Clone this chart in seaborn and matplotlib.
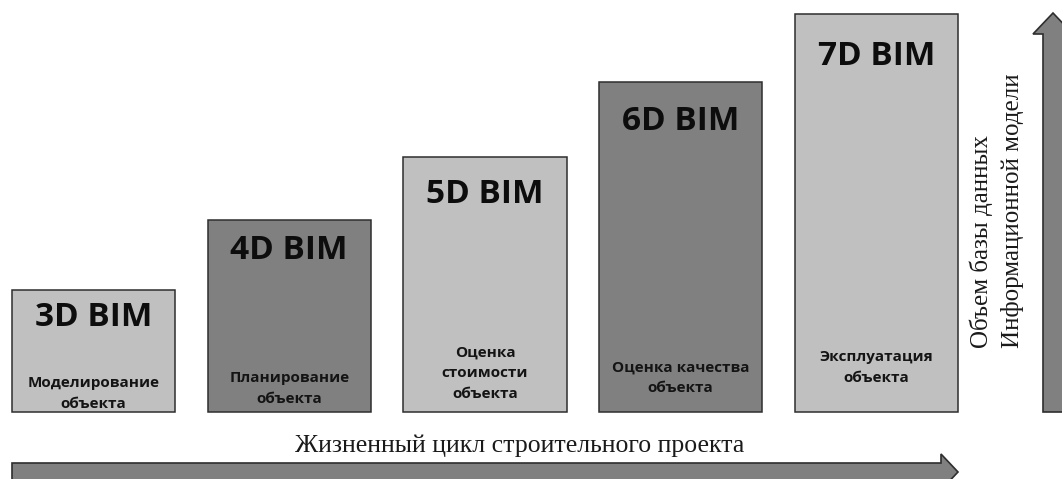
import matplotlib
matplotlib.use("Agg")
import matplotlib.pyplot as plt
import seaborn as sns
import pandas as pd
from matplotlib.patches import Polygon

# BIM maturity stages and the relative size of the information model at each
stages = ["3D BIM", "4D BIM", "5D BIM", "6D BIM", "7D BIM"]
descriptions = [
    "Моделирование\nобъекта",
    "Планирование\nобъекта",
    "Оценка\nстоимости\nобъекта",
    "Оценка качества\nобъекта",
    "Эксплуатация\nобъекта",
]
volume = [122, 192, 255, 330, 398]
shade = ["light", "dark", "light", "dark", "light"]
x_caption = "Жизненный цикл строительного проекта"
y_caption = "Объем базы данных\nИнформационной модели"

df = pd.DataFrame({"stage": stages, "volume": volume, "shade": shade})

# layout (pixel-like units of the drawing)
W, H = 1062, 479
title_drop = [36, 39, 46, 48, 51]      # stage title baseline below bar top
desc_lift = [1, 6, 11, 17, 27]         # description block bottom above bar base

sns.set_theme(style="white")
plt.rcParams["font.family"] = ["Open Sans", "DejaVu Sans"]

fig = plt.figure(figsize=(W / 100, H / 100), dpi=100)
ax = fig.add_axes([0, 0, 1, 1])

sns.barplot(
    data=df, x="stage", y="volume", hue="shade",
    palette={"light": "#c0c0c0", "dark": "#808080"},
    dodge=False, legend=False, width=0.833,
    edgecolor="#2e2e2e", linewidth=1.1, saturation=1, ax=ax,
)

step = 195.75
first_center = 93.5
ax.set_xlim(-first_center / step, (W - first_center) / step)
ax.set_ylim(-(H - 412), 412)
ax.axis("off")

for i, (name, desc, v) in enumerate(zip(stages, descriptions, volume)):
    ax.text(i, v - title_drop[i], name, ha="center", va="baseline",
            fontsize=24, fontweight="bold", color="#0d0d0d")
    ax.text(i, desc_lift[i], desc, ha="center", va="bottom",
            fontsize=11, fontweight="bold", color="#141414",
            linespacing=1.62, multialignment="center")

# overlay in pixel coordinates for arrows and captions
deco = fig.add_axes([0, 0, 1, 1], facecolor="none")
deco.set_xlim(0, W)
deco.set_ylim(H, 0)
deco.axis("off")

arrow_style = dict(closed=True, facecolor="#808080", edgecolor="#2e2e2e",
                   linewidth=1.2, joinstyle="miter")

h_arrow = [(12, 463), (941, 463), (941, 454), (958, 472),
           (941, 490), (941, 481), (12, 481)]
deco.add_patch(Polygon(h_arrow, **arrow_style))

v_arrow = [(1043, 412), (1043, 34), (1033, 34), (1053, 13),
           (1073, 34), (1063, 34), (1063, 412)]
deco.add_patch(Polygon(v_arrow, **arrow_style))

serif = ["Liberation Serif", "DejaVu Serif"]
deco.text(520, 452, x_caption, ha="center", va="baseline",
          fontsize=18.5, family=serif, color="#1a1a1a")
deco.text(997, 348, y_caption, ha="center", va="bottom", rotation=90,
          multialignment="left", linespacing=1.45,
          fontsize=18, family=serif, color="#1a1a1a")

fig.savefig("out.png", dpi=100)
